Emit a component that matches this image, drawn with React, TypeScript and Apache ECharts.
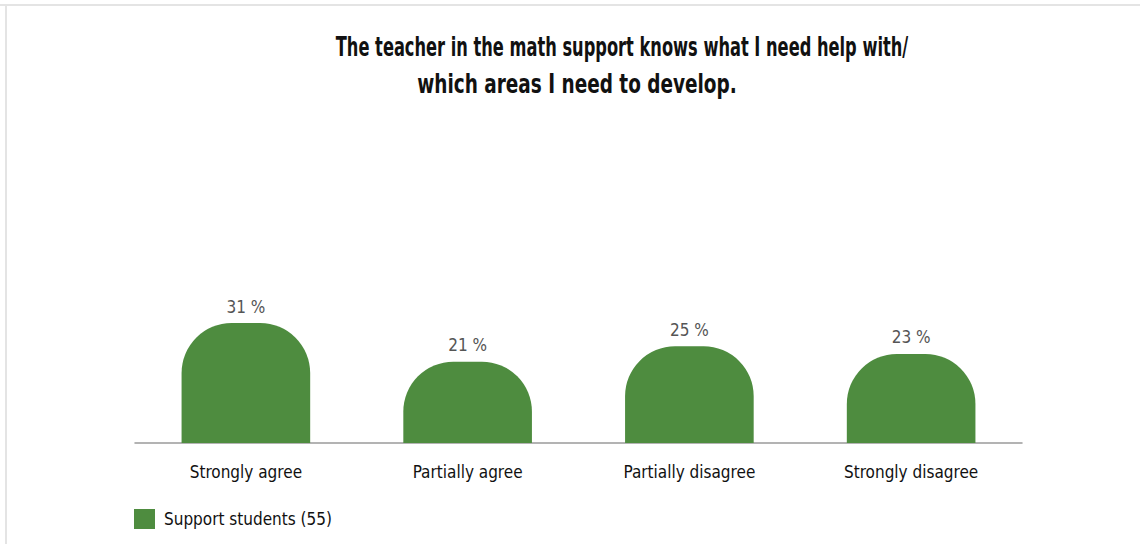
import React, { useEffect, useRef } from "react";
import * as echarts from "echarts";

const categories = ["Strongly agree", "Partially agree", "Partially disagree", "Strongly disagree"];
const values = [31, 21, 25, 23];
const seriesName = "Support students (55)";
const titleLines = ["The teacher in the math support knows what I need help with/", "which areas I need to develop."];
const titleCenters = [622, 577];
const titleScales = [0.695, 0.79];

const FONT = "'DejaVu Sans Condensed', 'Noto Sans', sans-serif";

export default function App() {
  const ref = useRef<HTMLDivElement>(null);
  useEffect(() => {
    if (!ref.current) return;
    const chart = echarts.init(ref.current, undefined, { renderer: "svg" });
    chart.setOption({
      animation: false,
      backgroundColor: "#ffffff",
      legend: {
        left: 134,
        top: 509,
        padding: 0,
        itemWidth: 21,
        itemHeight: 20,
        itemGap: 10,
        textStyle: { fontFamily: FONT, fontSize: 17, color: "#111", padding: [0, 0, 0, 4] },
        data: [{ name: seriesName, icon: "rect" }],
      },
      grid: { left: 135, right: 118, top: 56, bottom: 544 - 443 },
      xAxis: {
        type: "category",
        data: categories,
        axisLine: { lineStyle: { color: "#9a9a9a", width: 1.5 } },
        axisTick: { show: false },
        axisLabel: { fontFamily: FONT, fontSize: 17, color: "#111", margin: 20 },
      },
      yAxis: { type: "value", min: 0, max: 100, show: false, splitLine: { show: false } },
      series: [
        {
          name: seriesName,
          type: "bar",
          data: values,
          barWidth: "58%",
          itemStyle: { color: "#4e8c3f", borderRadius: [50, 50, 0, 0] },
          label: {
            show: true,
            position: "top",
            distance: 8,
            formatter: "{c} %",
            fontFamily: FONT,
            fontSize: 17,
            color: "#555",
          },
        },
      ],
      graphic: [
        { type: "rect", shape: { x: 0, y: 4, width: 1140, height: 2 }, style: { fill: "#e4e4e4" } },
        { type: "rect", shape: { x: 5, y: 4, width: 2, height: 540 }, style: { fill: "#e4e4e4" } },
        ...titleLines.map((t, i) => ({
          type: "text",
          x: titleCenters[i],
          y: 47 + i * 37,
          scaleX: titleScales[i],
          style: {
            text: t,
            x: 0,
            y: 0,
            textAlign: "center",
            textVerticalAlign: "middle",
            fontFamily: FONT,
            fontSize: 26,
            fontWeight: "bold",
            fill: "#111",
          },
        })),
      ],
    });
    return () => chart.dispose();
  }, []);
  return <div ref={ref} style={{ position: "absolute", left: 0, top: 0, width: 1140, height: 544 }} />;
}
